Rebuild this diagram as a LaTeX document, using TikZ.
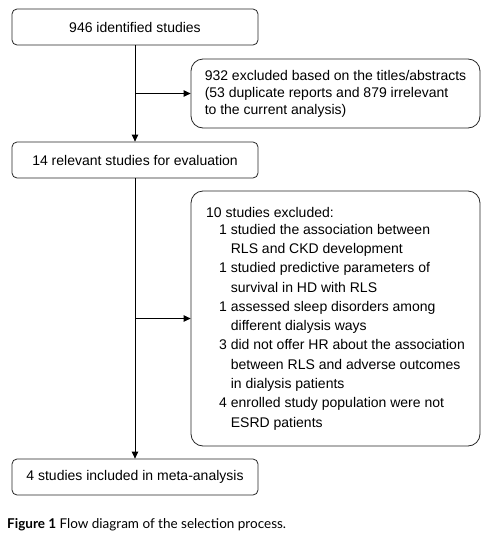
\documentclass[tikz,border=0pt]{standalone}
\usepackage{fontspec}
\setmainfont{Liberation Sans}
\newfontfamily\capfont{Lato}
\usetikzlibrary{arrows.meta}
\begin{document}
\begin{tikzpicture}[x=1pt,y=1pt,
  box/.style={draw=black!85, line width=0.8pt, rounded corners=5pt, inner sep=0pt, align=left, font=\fontsize{14}{17}\selectfont},
  bigbox/.style={box, rounded corners=12pt},
  arr/.style={draw=black, line width=0.8pt, -{Triangle[length=7pt,width=6.5pt]}}]
\useasboundingbox (0,0) rectangle (487,-536);
\node[box, minimum width=246pt, minimum height=36pt] (b1) at (135,-27) {946 identified studies};
\node[bigbox, minimum width=289pt, minimum height=69pt] (b2) at (335.5,-93.5)
  {932 excluded based on the titles/abstracts\\(53 duplicate reports and 879 irrelevant\\to the current analysis)};
\node[box, minimum width=246pt, minimum height=36pt] (b3) at (135,-160) {14 relevant studies for evaluation};
\node[bigbox, minimum width=289pt, minimum height=255pt] (b4) at (335.5,-318.5)
  {10 studies excluded:\\
  \hspace*{13pt}1 studied the association between\\[2.3pt]
  \hspace*{24.7pt}RLS and CKD development\\[2.3pt]
  \hspace*{13pt}1 studied predictive parameters of\\[2.3pt]
  \hspace*{24.7pt}survival in HD with RLS\\[2.3pt]
  \hspace*{13pt}1 assessed sleep disorders among\\[2.3pt]
  \hspace*{24.7pt}different dialysis ways\\[2.3pt]
  \hspace*{13pt}3 did not offer HR about the association\\[2.3pt]
  \hspace*{24.7pt}between RLS and adverse outcomes\\[2.3pt]
  \hspace*{24.7pt}in dialysis patients\\[2.3pt]
  \hspace*{13pt}4 enrolled study population were not\\[2.3pt]
  \hspace*{24.7pt}ESRD patients};
\node[box, minimum width=246pt, minimum height=36pt] (b5) at (135,-477) {4 studies included in meta-analysis};
\node[anchor=west, inner sep=0pt, font=\capfont\fontsize{13.5}{15}\selectfont] (cap) at (7,-525)
  {\textbf{Figure 1} Flow diagram of the selection process.};
\coordinate (j1) at (b1.south |- b2.west);
\coordinate (j2) at (b3.south |- b4.west);
\draw[arr] (b1.south) -- (b3.north);
\draw[arr] (j1) -- (b2.west);
\draw[arr] (b3.south) -- (b5.north);
\draw[arr] (j2) -- (b4.west);
\end{tikzpicture}
\end{document}
